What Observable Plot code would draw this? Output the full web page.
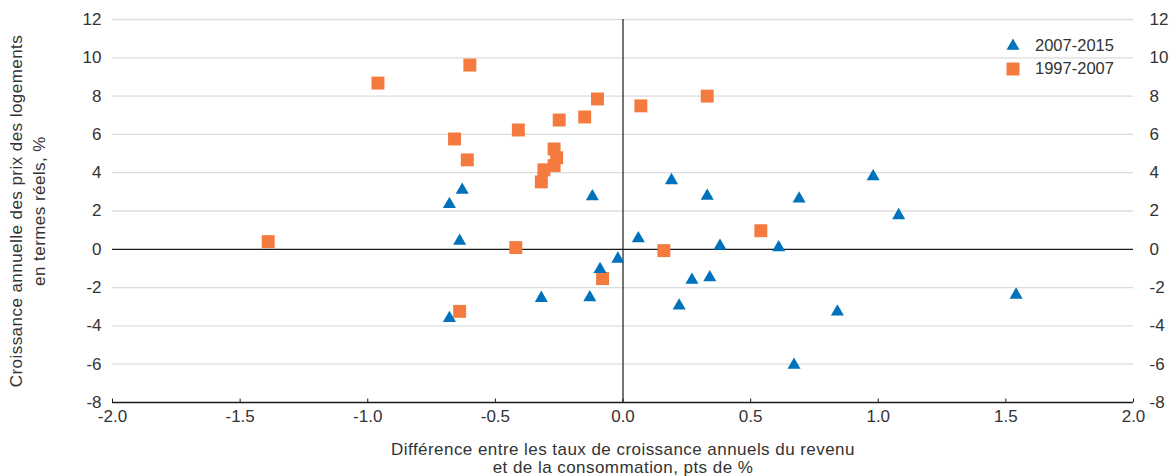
<!DOCTYPE html>
<html><head><meta charset="utf-8">
<script src="https://cdn.jsdelivr.net/npm/d3@7"></script>
<script src="https://cdn.jsdelivr.net/npm/@observablehq/plot@0.6"></script>
<style>
body{margin:0;background:#fff;font-family:"Liberation Sans",Arial,Helvetica,sans-serif;color:#333;}
#wrap{position:relative;width:1175px;height:476px;overflow:hidden;}
.ytitle{position:absolute;left:28px;top:211px;width:440px;transform:translate(-50%,-50%) rotate(-90deg);text-align:center;font-size:17px;letter-spacing:0.45px;line-height:23px;white-space:nowrap;}
.xtitle{position:absolute;left:623px;top:441px;transform:translateX(-50%);text-align:center;font-size:17px;letter-spacing:0.45px;line-height:18px;white-space:nowrap;}
.legend{position:absolute;left:1004px;top:34px;font-size:16.5px;}
.legend .row{display:flex;align-items:center;height:23px;}
.legend svg{width:18px;height:18px;margin-right:13px;}
</style></head><body>
<div id="wrap"></div>
<script>
// Series labels
const seriesNames = ["2007-2015", "1997-2007"];
const seriesColors = ["#0072BC", "#F47A3F"];

// 2007-2015 (triangles)
const x2007_2015 = [-0.63, -0.68, -0.12, 0.19, 0.33, 0.69, 0.98, 1.08, 1.54, -0.64, -0.68, 0.06, 0.38, 0.61, -0.02, -0.09, 0.27, 0.34, -0.32, -0.13, 0.22, 0.84, 0.67];
const y2007_2015 = [3.1, 2.35, 2.76, 3.6, 2.78, 2.64, 3.8, 1.77, -2.38, 0.43, -3.6, 0.56, 0.17, 0.09, -0.5, -1.04, -1.6, -1.47, -2.55, -2.52, -2.95, -3.26, -6.04];

// 1997-2007 (squares)
const x1997_2007 = [-0.96, -0.60, -0.66, -0.61, -0.41, -0.25, -0.15, -0.10, 0.07, 0.33, -0.27, -0.26, -0.27, -0.31, -0.32, -1.39, -0.64, -0.42, 0.16, 0.54, -0.08];
const y1997_2007 = [8.68, 9.62, 5.76, 4.67, 6.23, 6.75, 6.91, 7.85, 7.49, 8.0, 5.24, 4.78, 4.37, 4.15, 3.52, 0.4, -3.24, 0.09, -0.07, 0.97, -1.53];

// Ticks
const xTicks = [-2, -1.5, -1, -0.5, 0, 0.5, 1, 1.5, 2];
const yTicks = [-8, -6, -4, -2, 0, 2, 4, 6, 8, 10, 12];

const xTitle = ["Différence entre les taux de croissance annuels du revenu", "et de la consommation, pts de %"];
const yTitle = ["Croissance annuelle des prix des logements", "en termes réels, %"];

const dataA = x2007_2015.map((x, i) => ({x, y: y2007_2015[i]}));
const dataB = x1997_2007.map((x, i) => ({x, y: y1997_2007[i]}));

const plot = Plot.plot({
  width: 1175, height: 476,
  marginLeft: 112, marginRight: 42, marginTop: 19, marginBottom: 74,
  style: {fontFamily: '"Liberation Sans", Arial, Helvetica, sans-serif', fontSize: "17px", color: "#333", background: "white", overflow: "visible"},
  x: {domain: [-2, 2]},
  y: {domain: [-8, 12]},
  marks: [
    Plot.ruleY(yTicks.filter(d => d !== 0 && d !== -8), {stroke: "#dcdcdc", strokeWidth: 1.3}),
    Plot.ruleY([0], {stroke: "#1a1a1a", strokeWidth: 1.2}),
    Plot.ruleX([0], {stroke: "#1a1a1a", strokeWidth: 1.2}),
    Plot.ruleY([-8], {stroke: "#1a1a1a", strokeWidth: 1.3}),
    Plot.ruleX(xTicks, {y1: -8, y2: -7.82, stroke: "#1a1a1a", strokeWidth: 1}),
    Plot.axisX(xTicks, {tickSize: 0, tickPadding: 7, tickFormat: d => d.toFixed(1), label: null, fill: "#333", fontSize: 17}),
    Plot.axisY(yTicks, {anchor: "left", tickSize: 0, tickPadding: 11, tickFormat: d => String(d), label: null, fill: "#333", fontSize: 17}),
    Plot.axisY(yTicks, {anchor: "right", tickSize: 0, tickPadding: 16, tickFormat: d => String(d), label: null, fill: "#333", fontSize: 17}),
    Plot.dot(dataB, {x: "x", y: "y", symbol: "square", r: 7.3, fill: seriesColors[1]}),
    Plot.dot(dataA, {x: "x", y: "y", symbol: "triangle", r: 4.85, fill: seriesColors[0]})
  ]
});

const wrap = document.getElementById("wrap");
wrap.appendChild(plot);

const yt = document.createElement("div");
yt.className = "ytitle";
yt.innerHTML = yTitle.join("<br>");
wrap.appendChild(yt);

const xt = document.createElement("div");
xt.className = "xtitle";
xt.innerHTML = xTitle.join("<br>");
wrap.appendChild(xt);

const leg = document.createElement("div");
leg.className = "legend";
const syms = [d3.symbol(d3.symbolTriangle, 73)(), d3.symbol(d3.symbolSquare, 169)()];
seriesNames.forEach((name, i) => {
  const row = document.createElement("div");
  row.className = "row";
  row.innerHTML = `<svg viewBox="-9 -9 18 18"><path d="${syms[i]}" fill="${seriesColors[i]}"></path></svg><span>${name}</span>`;
  leg.appendChild(row);
});
wrap.appendChild(leg);
</script>
</body></html>
